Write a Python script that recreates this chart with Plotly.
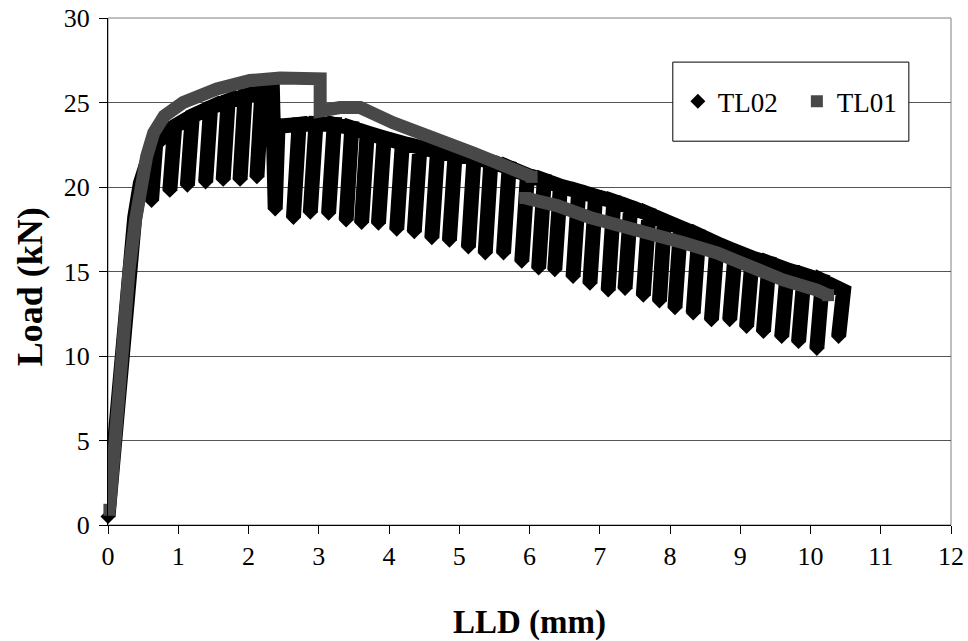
import plotly.graph_objects as go

# ---------------- TL02 : cyclic test (load in kN vs LLD in mm) ----------------
# initial loading branch
tl02_load_x = [0.00, 0.09, 0.17, 0.29, 0.38, 0.46, 0.55, 0.62]
tl02_load_y = [0.5, 5.0, 10.0, 15.0, 18.2, 20.2, 21.7, 22.3]

# cycles before the load drop: unloading start (peak) and unloading end (valley)
tl02_pre_peak_x = [0.68, 0.95, 1.20, 1.46, 1.71, 1.95, 2.19]
tl02_pre_peak_y = [22.6, 23.6, 24.2, 24.7, 25.1, 25.4, 25.6]
tl02_pre_valley_x = [0.62, 0.88, 1.13, 1.39, 1.64, 1.88, 2.12]
tl02_pre_valley_y = [19.2, 19.8, 20.1, 20.3, 20.45, 20.45, 20.6]

# load drop at maximum: peak -> valley -> reloading point on the lower envelope
tl02_drop_x = [2.34, 2.38, 2.42]
tl02_drop_y = [25.8, 18.7, 23.6]

# cycles after the load drop
tl02_post_peak_x = [2.72, 2.96, 3.22, 3.47, 3.69, 3.93, 4.19, 4.44, 4.69, 4.94,
                    5.21, 5.45, 5.71, 5.97, 6.21, 6.44, 6.70, 6.94, 7.20, 7.44,
                    7.70, 7.92, 8.15, 8.41, 8.67, 8.93, 9.17, 9.41, 9.67, 9.91,
                    10.17, 10.47]
tl02_post_peak_y = [23.7, 23.75, 23.7, 23.5, 23.2, 22.9, 22.6, 22.35, 22.1, 21.9,
                    21.75, 21.5, 21.15, 20.7, 20.4, 20.05, 19.75, 19.45, 19.15, 18.8,
                    18.4, 18.0, 17.6, 17.15, 16.65, 16.2, 15.8, 15.5, 15.1, 14.8,
                    14.45, 13.85]
tl02_post_valley_x = [2.64, 2.88, 3.14, 3.39, 3.61, 3.85, 4.11, 4.36, 4.61, 4.86,
                      5.13, 5.37, 5.63, 5.89, 6.13, 6.36, 6.62, 6.86, 7.12, 7.36,
                      7.62, 7.85, 8.07, 8.33, 8.59, 8.85, 9.09, 9.33, 9.59, 9.83,
                      10.09, 10.40]
tl02_post_valley_y = [18.2, 18.5, 18.45, 18.05, 17.9, 17.85, 17.5, 17.35, 17.0, 16.85,
                      16.45, 16.1, 16.1, 15.6, 15.2, 15.1, 14.7, 14.3, 13.9, 14.0,
                      13.6, 13.25, 12.85, 12.55, 12.15, 12.15, 11.75, 11.45, 11.15, 10.85,
                      10.45, 11.15]

# ---------------- TL01 : monotonic test ----------------
tl01_x = [0.02, 0.10, 0.18, 0.30, 0.39, 0.46, 0.55, 0.65, 0.80, 1.07, 1.55, 2.02, 2.45,
          3.02, 3.02, 3.30, 3.59, 4.06, 4.54, 4.97, 5.20, 5.68, 6.03,
          None,
          5.94, 6.39, 6.86, 7.33, 7.72, 8.19, 8.67, 9.14, 9.61, 10.09, 10.25]
tl01_y = [0.9, 5.2, 10.0, 15.1, 18.0, 20.0, 21.8, 23.2, 24.2, 25.0, 25.8, 26.3, 26.45,
          26.4, 24.5, 24.7, 24.7, 23.8, 23.1, 22.5, 22.0, 21.2, 20.6,
          None,
          19.35, 18.9, 18.2, 17.6, 17.3, 16.7, 16.1, 15.2, 14.5, 13.9, 13.6]

x_ticks = list(range(0, 13))
y_ticks = list(range(0, 31, 5))

FONT = "Liberation Serif"
GRAY = "#484848"

# assemble the TL02 record: loading branch, then unload/reload loops
path_x = list(tl02_load_x)
path_y = list(tl02_load_y)
for pxv, pyv, vxv, vyv in zip(tl02_pre_peak_x, tl02_pre_peak_y,
                              tl02_pre_valley_x, tl02_pre_valley_y):
    path_x += [pxv, vxv, pxv]
    path_y += [pyv, vyv, pyv]
path_x += tl02_drop_x
path_y += tl02_drop_y
for pxv, pyv, vxv, vyv in zip(tl02_post_peak_x, tl02_post_peak_y,
                              tl02_post_valley_x, tl02_post_valley_y):
    path_x += [pxv, vxv, pxv]
    path_y += [pyv, vyv, pyv]

valley_x = [tl02_load_x[0]] + tl02_pre_valley_x + [tl02_drop_x[1]] + tl02_post_valley_x
valley_y = [tl02_load_y[0]] + tl02_pre_valley_y + [tl02_drop_y[1]] + tl02_post_valley_y

# TL01 segment ends (square markers)
gap = tl01_x.index(None)
tl01_end_x = [tl01_x[0], tl01_x[gap - 1], tl01_x[gap + 1], tl01_x[-1]]
tl01_end_y = [tl01_y[0], tl01_y[gap - 1], tl01_y[gap + 1], tl01_y[-1]]

fig = go.Figure()

fig.add_trace(go.Scatter(
    x=path_x, y=path_y, mode="lines",
    line=dict(color="black", width=15),
    showlegend=False, hoverinfo="skip", cliponaxis=False,
))
fig.add_trace(go.Scatter(
    x=valley_x, y=valley_y, mode="markers", name="TL02",
    marker=dict(symbol="diamond", size=11.5, color="black"),
    cliponaxis=False,
))
fig.add_trace(go.Scatter(
    x=tl01_x, y=tl01_y, mode="lines", connectgaps=False,
    line=dict(color=GRAY, width=13),
    showlegend=False, hoverinfo="skip", cliponaxis=False,
))
fig.add_trace(go.Scatter(
    x=tl01_end_x, y=tl01_end_y, mode="markers", name="TL01",
    marker=dict(symbol="square", size=12, color=GRAY),
    cliponaxis=False,
))

# plot-area frame and legend box
fig.add_shape(type="rect", xref="paper", yref="paper", x0=0, x1=1, y0=0, y1=1,
              line=dict(color="#808080", width=1), layer="below")
fig.add_shape(type="rect", xref="paper", yref="paper",
              x0=0.670, x1=0.950, y0=0.757, y1=0.913,
              line=dict(color="black", width=1), fillcolor="white", layer="above")

# vertical axis title
fig.add_annotation(
    text="<b>Load (kN)</b>", textangle=-90,
    xref="paper", yref="paper", x=-0.0925, y=0.469,
    xanchor="center", yanchor="middle", showarrow=False,
    font=dict(family=FONT, size=36, color="black"),
)

fig.update_layout(
    width=968, height=641,
    margin=dict(l=108, r=17, t=18, b=116, autoexpand=False),
    paper_bgcolor="white", plot_bgcolor="white",
    font=dict(family=FONT, color="black", size=26),
    showlegend=True,
    legend=dict(
        orientation="h", x=0.676, y=0.835, xanchor="left", yanchor="middle",
        bgcolor="rgba(0,0,0,0)", borderwidth=0,
        font=dict(family=FONT, size=27, color="black"),
        entrywidth=74, entrywidthmode="pixels",
    ),
    xaxis=dict(
        range=[0, 12], tickvals=x_ticks, ticktext=[str(v) for v in x_ticks],
        ticks="outside", ticklen=8, tickcolor="black", tickwidth=1,
        showline=True, linecolor="black", linewidth=1,
        showgrid=False, zeroline=False,
        tickfont=dict(family=FONT, size=26, color="black"),
        title=dict(text="<b>LLD (mm)</b>", standoff=44,
                   font=dict(family=FONT, size=33, color="black")),
    ),
    yaxis=dict(
        range=[0, 30], tickvals=y_ticks, ticktext=[str(v) for v in y_ticks],
        ticks="outside", ticklen=8, tickcolor="black", tickwidth=1,
        ticklabelstandoff=4,
        showline=True, linecolor="black", linewidth=1,
        showgrid=True, gridcolor="#555555", gridwidth=1,
        zeroline=False,
        tickfont=dict(family=FONT, size=26, color="black"),
    ),
)

fig.write_html("out.html")
